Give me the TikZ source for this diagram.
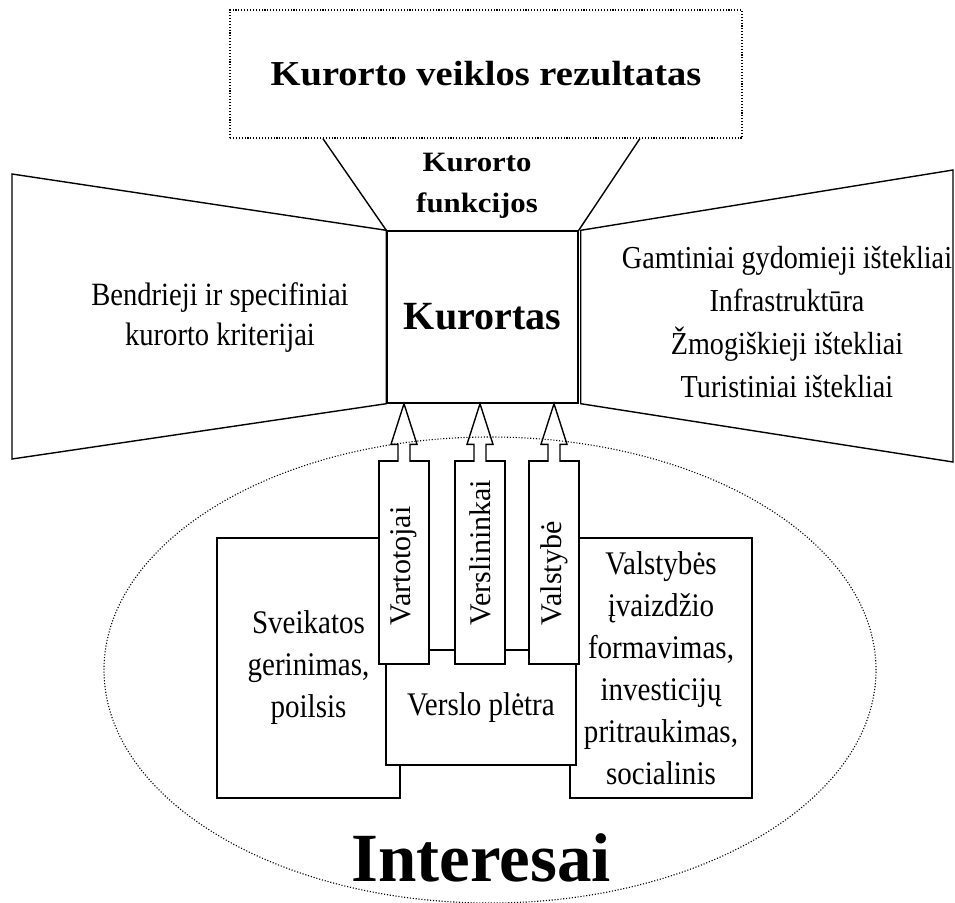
\documentclass[tikz,border=0pt]{standalone}
\usepackage{fontspec}
\setmainfont{Liberation Serif}
\newfontfamily\narrowfont{Liberation Serif}[FakeStretch=0.88]
\newfontfamily\widefont{Liberation Serif}[FakeStretch=1.1]
\usetikzlibrary{calc}

\begin{document}
\begin{tikzpicture}[x=1pt, y=-1pt, line width=1.4pt,
    txt/.style={align=center, inner sep=0pt, font=\narrowfont\fontsize{33}{42}\selectfont},
    box/.style={txt, draw, fill=white},
    shaft/.style={draw, fill=white, minimum width=50pt, minimum height=203pt, inner sep=0pt},
    sidelabel/.style={rotate=90, anchor=west, inner sep=0pt, font=\fontsize{30}{30}\selectfont},
    dotline/.style={line width=1.1pt, dash pattern=on 1.1pt off 1.8pt}]
    \useasboundingbox (0,0) rectangle (955,902);

    % rezultatas ir funkcijos
    \node[draw, dotline, minimum width=512pt, minimum height=128pt, font=\widefont\bfseries\fontsize{35}{40}\selectfont] (rez) at (486,74) {Kurorto veiklos rezultatas};
    \node[draw, minimum width=191pt, minimum height=172pt, font=\bfseries\fontsize{40}{40}\selectfont] (kur) at (482.5,317) {Kurortas};
    \draw ($(rez.south west)!0.182!(rez.south east)$) -- (kur.north west);
    \draw ($(rez.south west)!0.8!(rez.south east)$) -- (kur.north east);
    \node[align=center, font=\widefont\bfseries\fontsize{28}{41}\selectfont] (fun) at (477,186) {Kurorto\\funkcijos};

    % kriterijai ir istekliai
    \draw (kur.north west) -- (12,174) -- (12,459) -- (kur.south west) -- cycle;
    \draw ([xshift=2pt]kur.north east) -- (953,170) -- (953,462) -- ([xshift=2pt]kur.south east) -- cycle;
    \node[txt, font=\narrowfont\fontsize{32.5}{40}\selectfont] (krit) at (220,318) {Bendrieji ir specifiniai\\kurorto kriterijai};
    \node[txt, font=\narrowfont\fontsize{32}{43}\selectfont] (ist) at (787,322) {Gamtiniai gydomieji ištekliai\\Infrastruktūra\\Žmogiškieji ištekliai\\Turistiniai ištekliai};

    % interesai
    \node[box, minimum width=183pt, minimum height=260pt] (sveik) at (308.5,668) {Sveikatos\\gerinimas,\\poilsis};
    \node[box, minimum width=182pt, minimum height=260pt] (valst) at (661,668) {Valstybės\\įvaizdžio\\formavimas,\\investicijų\\pritraukimas,\\socialinis};
    \node[box, minimum width=190pt, minimum height=115pt] (versl) at (481,707.5) {Verslo plėtra};
    \foreach \s/\x/\t in {vart/404/Vartotojai, vers/480/Verslininkai, vals/554/Valstybė} {
        \node[shaft] (\s) at (\x,562.5) {};
        \node[sidelabel] (\s-l) at ($(\s.south)+(0,-39)$) {\t};
        \draw[fill=white] ($(\s.north)+(-6,1.5)$) -- ++(0,-17.5) -- ++(-7,0) -- (\s.north |- kur.south) -- ($(\s.north)+(13,-16)$) -- ++(-7,0) -- ++(0,17.5);
    }
    \draw[dotline] (490,670) ellipse [x radius=386pt, y radius=233pt];
    \node[font=\bfseries\fontsize{69}{69}\selectfont] (inter) at (481,858) {Interesai};
\end{tikzpicture}
\end{document}
